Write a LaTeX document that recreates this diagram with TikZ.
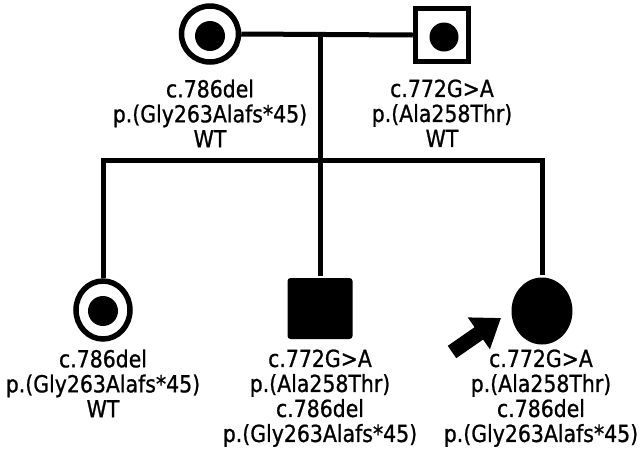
\documentclass[tikz,border=0pt]{standalone}
\usepackage{fontspec}
\setmainfont{DejaVu Sans}[FakeStretch=0.87,FakeBold=0.9]
\usetikzlibrary{shapes.geometric,arrows.meta}
\begin{document}
\begin{tikzpicture}[x=1pt,y=-1pt,
  line width=5pt,
  lbl/.style={align=center, inner sep=0pt, anchor=north, font=\fontsize{23.5}{25}\selectfont},
  ring/.style={ellipse, draw, line width=5.5pt, inner sep=0pt},
  mbox/.style={rectangle, draw, line width=5.5pt, inner sep=0pt},
  fullbox/.style={rectangle, fill, rounded corners=3pt, inner sep=0pt},
  fullring/.style={ellipse, fill, inner sep=0pt},
  dot/.style={circle, fill, inner sep=0pt, minimum size=30pt}]
\useasboundingbox (0,0) rectangle (642,456);
% parents
\node[ring, minimum width=57, minimum height=56] (mother) at (210,34) {};
\node[dot] (mdot) at (210,36) {};
\node[mbox, minimum size=53] (father) at (442,35) {};
\node[dot, minimum size=29pt] (fdot) at (444,37) {};
\draw (mother.east) -- (father.west);
\coordinate (mid) at (320,35);
\coordinate (sib) at (320,160);
% children
\node[ring, minimum width=54, minimum height=58] (c1) at (103,310) {};
\node[dot] (c1dot) at (103,311) {};
\node[fullbox, minimum width=65, minimum height=61] (c2) at (320,308.5) {};
\node[fullring, minimum width=61, minimum height=67] (c3) at (542,311) {};
% lines of descent
\draw (mid) -- (c2.north);
\draw (c1.north) -- (c1.north |- sib) -- (c3.north |- sib) -- (c3.north);
% proband arrow
\coordinate (atail) at (452,352);
\coordinate (atip) at (501,318);
\draw[line width=15pt, -{Triangle[length=27pt,width=37pt]}] (atail) -- (atip);
% labels
\node[lbl] (mlab) at (210,77) {c.786del\\p.(Gly263Alafs*45)\\WT};
\node[lbl] (flab) at (442,77) {c.772G>A\\p.(Ala258Thr)\\WT};
\node[lbl] (c1lab) at (103,347) {c.786del\\p.(Gly263Alafs*45)\\WT};
\node[lbl] (c2lab) at (320,347) {c.772G>A\\p.(Ala258Thr)\\c.786del\\p.(Gly263Alafs*45)};
\node[lbl] (c3lab) at (541,347) {c.772G>A\\p.(Ala258Thr)\\c.786del\\p.(Gly263Alafs*45)};
\end{tikzpicture}
\end{document}
